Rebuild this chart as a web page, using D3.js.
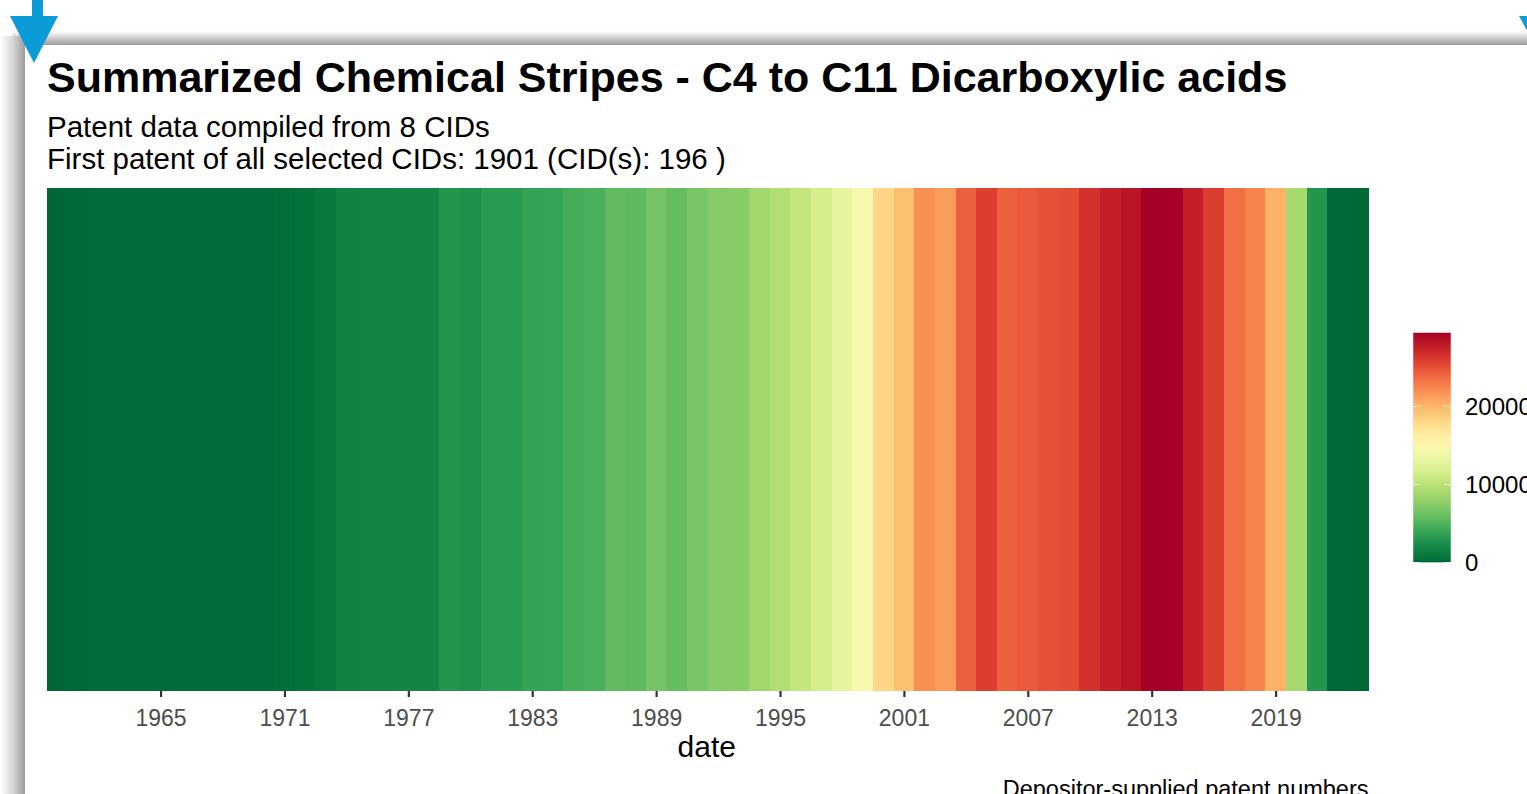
<!DOCTYPE html>
<html><head><meta charset="utf-8">
<script src="https://cdn.jsdelivr.net/npm/d3@7"></script>
<style>html,body{margin:0;padding:0;background:#fff;overflow:hidden}svg{display:block}</style>
</head><body>
<script>
const years = d3.range(1960, 2024);
const patentCounts = [
  20, 40, 180, 180, 180, 180, 180, 180, 180, 180,
  180, 380, 600, 1000, 1600, 1650, 1700, 1750, 1750, 2950,
  2600, 3300, 3350, 3900, 3950, 4600, 4800, 5800, 5700, 6600,
  5950, 6800, 7400, 7450, 8700, 9600, 10600, 11800, 12900, 14300,
  18100, 19500, 22000, 21400, 24200, 25900, 24200, 24500, 25000, 25100,
  26550, 27600, 28200, 29450, 29400, 27600, 26000, 23500, 22500, 20300,
  9000, 2950, 50, 0
];
const xTicks = [1965, 1971, 1977, 1983, 1989, 1995, 2001, 2007, 2013, 2019];
const legendTicks = [0, 10000, 20000];
const titleText = "Summarized Chemical Stripes - C4 to C11 Dicarboxylic acids";
const subtitleLines = ["Patent data compiled from 8 CIDs", "First patent of all selected CIDs: 1901 (CID(s): 196 )"];
const xTitle = "date";
const captionText = "Depositor-supplied patent numbers";

const W = 1527, H = 794;
const svg = d3.select("body").append("svg").attr("width", W).attr("height", H)
  .style("font-family", "'Liberation Sans', Arial, sans-serif");
const defs = svg.append("defs");
const gTop = defs.append("linearGradient").attr("id","gTop").attr("x1",0).attr("y1",0).attr("x2",0).attr("y2",1);
gTop.append("stop").attr("offset","0%").attr("stop-color","#ffffff");
gTop.append("stop").attr("offset","100%").attr("stop-color","#9c9c9c");
const gLeft = defs.append("linearGradient").attr("id","gLeft").attr("x1",0).attr("y1",0).attr("x2",1).attr("y2",0);
gLeft.append("stop").attr("offset","0%").attr("stop-color","#ffffff");
gLeft.append("stop").attr("offset","50%").attr("stop-color","#d8d8d8");
gLeft.append("stop").attr("offset","100%").attr("stop-color","#9c9c9c");

svg.append("rect").attr("width",W).attr("height",H).attr("fill","#fff");
// slide shadow frame
svg.append("rect").attr("x",12).attr("y",31).attr("width",W-12).attr("height",14).attr("fill","url(#gTop)");
svg.append("rect").attr("x",0).attr("y",36).attr("width",25).attr("height",H-36).attr("fill","url(#gLeft)");
svg.append("rect").attr("x",25).attr("y",45).attr("width",W-25).attr("height",H-45).attr("fill","#fff");
// blue arrows
const blue = "#0b9bd7";
svg.append("rect").attr("x",32).attr("y",0).attr("width",11).attr("height",17).attr("fill",blue);
svg.append("polygon").attr("points","10,16 58,16 34,63").attr("fill",blue);
svg.append("polygon").attr("points","1519,16 1570,16 1545,63").attr("fill",blue);

// plot
const plot = {left: 47, right: 1368.5, top: 188, bottom: 691};
const x = d3.scaleLinear().domain([1959.5, 2023.5]).range([plot.left, plot.right]);
const maxV = d3.max(patentCounts), minV = d3.min(patentCounts);
const color = v => d3.interpolateRdYlGn(1 - (v - minV) / (maxV - minV));

const data = years.map((y, i) => ({year: y, value: patentCounts[i]}));
svg.append("g").attr("shape-rendering","crispEdges").selectAll("rect").data(data).join("rect")
  .attr("x", d => x(d.year - 0.5))
  .attr("y", plot.top)
  .attr("width", d => x(d.year + 0.5) - x(d.year - 0.5) + 0.6)
  .attr("height", plot.bottom - plot.top)
  .attr("fill", d => color(d.value));

const xAxis = svg.append("g").attr("transform", `translate(0,${plot.bottom})`)
  .call(d3.axisBottom(x).tickValues(xTicks).tickFormat(d3.format("d")).tickSize(6).tickPadding(13));
xAxis.select(".domain").remove();
xAxis.selectAll(".tick line").attr("stroke","#333").attr("stroke-width",2.2);
xAxis.selectAll(".tick text").attr("fill","#4d4d4d").style("font-size","23px")
  .style("font-family","'Liberation Sans', Arial, sans-serif");

svg.append("text").attr("x", (plot.left+plot.right)/2 - 1).attr("y", 757).attr("text-anchor","middle")
  .style("font-size","30px").attr("fill","#000").text(xTitle);

// titles
svg.append("text").attr("x",47).attr("y",92).style("font-size","43px").style("font-weight","bold").attr("fill","#000").text(titleText);
svg.append("text").attr("x",47).attr("y",137).style("font-size","29.5px").attr("fill","#000").text(subtitleLines[0]);
svg.append("text").attr("x",47).attr("y",169).style("font-size","29.5px").attr("fill","#000").text(subtitleLines[1]);

// caption
svg.append("text").attr("x",plot.right).attr("y",797).attr("text-anchor","end").style("font-size","23.5px").attr("fill","#000").text(captionText);

// legend
const leg = {x: 1413, w: 38, top: 332.5, bottom: 562.7};
const ly = d3.scaleLinear().domain([minV, maxV]).range([leg.bottom, leg.top]);
const lgGrad = defs.append("linearGradient").attr("id","lg").attr("x1",0).attr("y1",1).attr("x2",0).attr("y2",0);
d3.range(0, 1.0001, 0.05).forEach(t => lgGrad.append("stop").attr("offset", (t*100)+"%").attr("stop-color", d3.interpolateRdYlGn(1-t)));
svg.append("rect").attr("x",leg.x).attr("y",leg.top).attr("width",leg.w).attr("height",leg.bottom-leg.top)
  .attr("fill","url(#lg)").attr("stroke","#e8e8e8").attr("stroke-width",0.6);
const lt = svg.append("g");
legendTicks.forEach(v => {
  const yy = ly(v);
  lt.append("line").attr("x1",leg.x).attr("x2",leg.x+7).attr("y1",yy).attr("y2",yy).attr("stroke","#fff").attr("stroke-opacity",0.7).attr("stroke-width",1);
  lt.append("line").attr("x1",leg.x+leg.w-7).attr("x2",leg.x+leg.w).attr("y1",yy).attr("y2",yy).attr("stroke","#fff").attr("stroke-opacity",0.7).attr("stroke-width",1);
  lt.append("text").attr("x",1465).attr("y",yy).attr("dy","0.36em").style("font-size","24px").attr("fill","#000").text(v);
});
</script>
</body></html>
